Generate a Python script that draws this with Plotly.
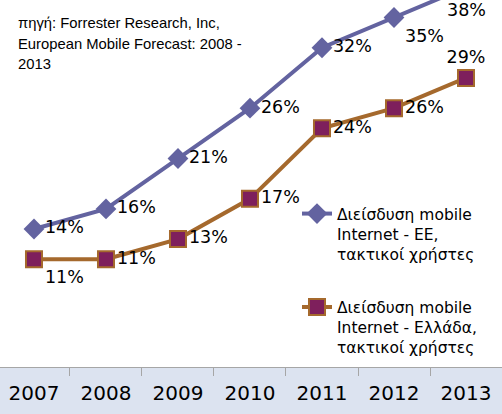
import plotly.graph_objects as go

# data
years = ['2007', '2008', '2009', '2010', '2011', '2012', '2013']
eu_users = [14, 16, 21, 26, 32, 35, 38]
gr_users = [11, 11, 13, 17, 24, 26, 29]
eu_name = 'Διείσδυση mobile<br>Internet - ΕΕ,<br>τακτικοί χρήστες'
gr_name = 'Διείσδυση mobile<br>Internet - Ελλάδα,<br>τακτικοί χρήστες'
source_lines = ['πηγή: Forrester Research, Inc,',
                'European Mobile Forecast: 2008 -',
                '2013']

eu_pos = ['middle right', 'middle right', 'middle right', 'middle right',
          'middle right', 'bottom right', 'bottom center']
gr_pos = ['bottom right', 'middle right', 'middle right', 'middle right',
          'middle right', 'middle right', 'top center']

label_font = dict(family='DejaVu Sans', size=17.5, color='black')

# the last EU point sits above the top edge, its label goes in an annotation
eu_text = [f'{v}%' for v in eu_users[:-1]] + ['']

fig = go.Figure()

fig.add_trace(go.Scatter(
    x=years, y=eu_users,
    mode='lines+markers+text',
    name=eu_name,
    legendgroup='eu',
    text=eu_text,
    textposition=eu_pos,
    textfont=label_font,
    line=dict(color='#6363a0', width=4),
    marker=dict(symbol='diamond', size=16, color='#6363a0'),
))

fig.add_trace(go.Scatter(
    x=years, y=gr_users,
    mode='lines+markers+text',
    name=gr_name,
    legendgroup='gr',
    text=[f'{v}%' for v in gr_users],
    textposition=gr_pos,
    textfont=label_font,
    line=dict(color='#a5692d', width=4),
    marker=dict(symbol='square', size=16, color='#7e1f5c',
                line=dict(color='#a5692d', width=2)),
))

# category index of the last year (a '2013' string would be read as a number)
fig.add_annotation(
    x=len(years) - 1, y=eu_users[-1] - 2.3, text=f'{eu_users[-1]}%',
    xanchor='center', yanchor='middle', showarrow=False,
    font=label_font,
)

# light blue band behind the category labels
fig.add_shape(type='rect', xref='paper', yref='paper',
              x0=0, x1=1, y0=-0.13, y1=0,
              fillcolor='#dce3f0', line_width=0, layer='below')

for i, line in enumerate(source_lines):
    fig.add_annotation(
        text=line, xref='paper', yref='paper',
        x=16 / 502, y=1 - (23 + 20.5 * i) / 367,
        xanchor='left', yanchor='middle', showarrow=False,
        font=dict(family='Liberation Sans', size=14.8, color='black'),
    )

fig.update_layout(
    width=502, height=414,
    margin=dict(l=0, r=0, t=0, b=47),
    paper_bgcolor='white', plot_bgcolor='white',
    showlegend=True,
    legend=dict(
        x=297 / 502, y=1 - 197 / 367, xanchor='left', yanchor='top',
        valign='top', tracegroupgap=30, bgcolor='rgba(0,0,0,0)',
        font=dict(family='DejaVu Sans', size=15.5, color='black'),
    ),
)

fig.update_xaxes(
    type='category', range=[-0.472, 6.5],
    showline=True, linecolor='#a6a6a6', linewidth=1,
    ticks='outside', tickson='boundaries', ticklen=8, tickcolor='#a6a6a6',
    ticklabelstandoff=8,
    showgrid=False, zeroline=False,
    tickfont=dict(family='DejaVu Sans', size=20, color='black'),
)
fig.update_yaxes(range=[0.3, 36.74], visible=False, showgrid=False)

# drop the default page margin so the figure sits at the window corner
fig.write_html('out.html', config={'displayModeBar': False},
               post_script="document.body.style.margin='0';")
